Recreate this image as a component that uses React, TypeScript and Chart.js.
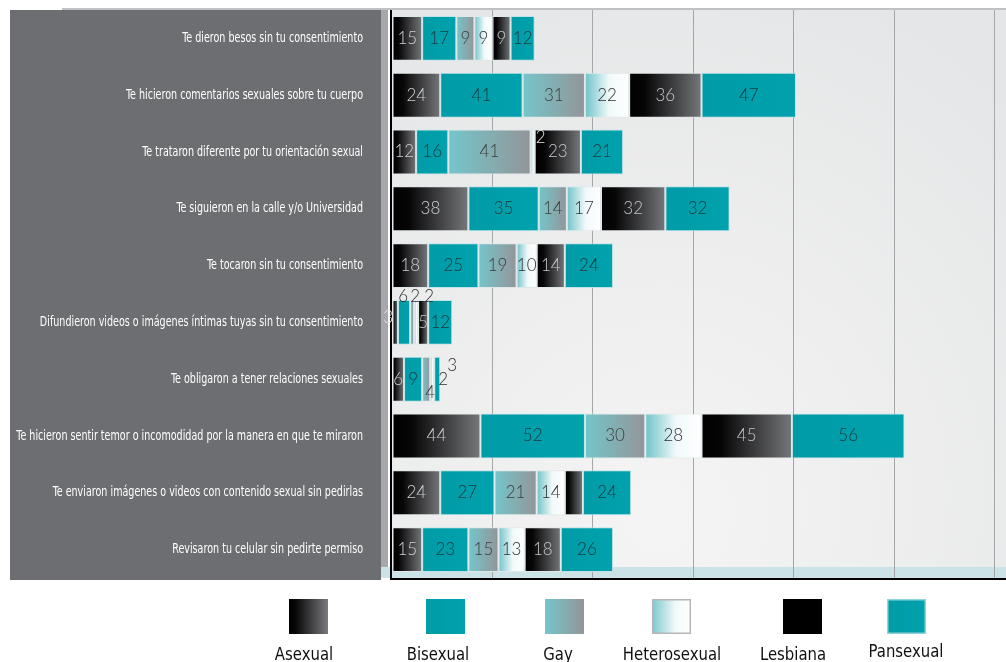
import React, { useEffect, useRef } from 'react';
import { Chart, registerables } from 'chart.js';

Chart.register(...registerables);

// ---------- data ----------
const categories = [
  'Te dieron besos sin tu consentimiento',
  'Te hicieron comentarios sexuales sobre tu cuerpo',
  'Te trataron diferente por tu orientación sexual',
  'Te siguieron en la calle y/o Universidad',
  'Te tocaron sin tu consentimiento',
  'Difundieron videos o imágenes íntimas tuyas sin tu consentimiento',
  'Te obligaron a tener relaciones sexuales',
  'Te hicieron sentir temor o incomodidad por la manera en que te miraron',
  'Te enviaron imágenes o videos con contenido sexual sin pedirlas',
  'Revisaron tu celular sin pedirte permiso',
];
const asexual = [15, 24, 12, 38, 18, 3, 6, 44, 24, 15];
const bisexual = [17, 41, 16, 35, 25, 6, 9, 52, 27, 23];
const gay = [9, 31, 41, 14, 19, 2, 4, 30, 21, 15];
const heterosexual = [9, 22, 2, 17, 10, 2, 2, 28, 14, 13];
const lesbiana = [9, 36, 23, 32, 14, 5, 0, 45, 9, 18];
const pansexual = [12, 47, 21, 32, 24, 12, 3, 56, 24, 26];
const seriesNames = ['Asexual', 'Bisexual', 'Gay', 'Heterosexual', 'Lesbiana', 'Pansexual'];
const gridValues = [0, 50, 100, 150, 200, 250, 300];

const series = [asexual, bisexual, gay, heterosexual, lesbiana, pansexual];

// ---------- styles ----------
type Stop = [number, string];
const darkStops: Stop[] = [[0, '#000000'], [0.22, '#060607'], [1, '#76777a']];
const tealStops: Stop[] = [[0, '#009ba7'], [1, '#00a2ad']];
const seriesStyles: { stops: Stop[]; text: string; legendStops: Stop[]; legendBorder?: string }[] = [
  { stops: darkStops, text: '#cfd0d2', legendStops: [[0, '#000000'], [0.15, '#050505'], [1, '#7a7b7e']] },
  { stops: tealStops, text: '#17383c', legendStops: tealStops },
  { stops: [[0, '#74c6cb'], [1, '#939598']], text: '#3a3b3d', legendStops: [[0, '#74c6cb'], [1, '#939598']] },
  { stops: [[0, '#6fc3c9'], [0.55, '#f2f9fa'], [1, '#ffffff']], text: '#2d2e30', legendStops: [[0, '#7cc8cd'], [0.6, '#f2f9fa'], [1, '#ffffff']], legendBorder: '#b4b6b8' },
  { stops: darkStops, text: '#c6c7c9', legendStops: [[0, '#000000'], [1, '#000000']] },
  { stops: tealStops, text: '#17383c', legendStops: tealStops, legendBorder: '#8fd4d9' },
];

// manual label nudges for tiny segments (key: row-series)
const labelTweaks: Record<string, { dx?: number; dy?: number; color?: string; hide?: boolean }> = {
  '2-3': { dx: 8, dy: -14, color: '#e6e7e8' },
  '5-0': { dx: -7, dy: -5, color: '#e0e1e2' },
  '5-1': { dx: -1, dy: -26, color: '#2d2e30' },
  '5-2': { dx: 3, dy: -26, color: '#2d2e30' },
  '5-3': { dx: 13, dy: -26, color: '#2d2e30' },
  '6-2': { dx: 4, dy: 13, color: '#3a3b3d' },
  '6-3': { dx: 11, dy: 0, color: '#2d2e30' },
  '6-5': { dx: 15, dy: -14, color: '#2d2e30' },
  '8-4': { hide: true },
};

const legendBoxX = [289, 426, 545, 652, 783, 887];
const legendTextX = [304, 438, 558, 672, 793, 906];

const W = 1006;
const H = 662;
const CONDENSED = '"Liberation Sans Narrow", "DejaVu Sans Condensed", sans-serif';

function makeGradient(ctx: CanvasRenderingContext2D, x0: number, x1: number, stops: Stop[]) {
  const g = ctx.createLinearGradient(x0, 0, x1, 0);
  stops.forEach(([o, c]) => g.addColorStop(o, c));
  return g;
}

// draw text horizontally squeezed so that it matches a narrow face
function squeezedText(ctx: CanvasRenderingContext2D, text: string, x: number, y: number, scale: number) {
  ctx.save();
  ctx.translate(x, y);
  ctx.scale(scale, 1);
  ctx.fillText(text, 0, 0);
  ctx.restore();
}

const decorPlugin = {
  id: 'decor',
  beforeDraw(chart: any) {
    const { ctx, chartArea } = chart;
    const { left, right, top, bottom } = chartArea;
    ctx.save();
    ctx.fillStyle = '#ffffff';
    ctx.fillRect(0, 0, W, H);
    ctx.fillStyle = '#bfc1c3';
    ctx.fillRect(62, 8, W - 62, 2);
    ctx.fillStyle = '#6d6e71';
    ctx.fillRect(10, 10, 371, 570);
    ctx.fillStyle = '#a6a8ab';
    ctx.fillRect(381, 10, 7, 557);
    const rg = ctx.createRadialGradient(660, 520, 20, 660, 470, 520);
    rg.addColorStop(0, '#f4f4f4');
    rg.addColorStop(1, '#e5e6e7');
    ctx.fillStyle = rg;
    ctx.fillRect(left, top, right - left, bottom - top);
    ctx.fillStyle = '#cbe3e7';
    ctx.fillRect(381, bottom - 11, right - 381, 11);
    ctx.restore();
  },
  beforeDatasetsDraw(chart: any) {
    const { ctx, chartArea } = chart;
    ctx.save();
    ctx.fillStyle = '#000000';
    ctx.fillRect(chartArea.left - 2, chartArea.top, 2, chartArea.bottom - chartArea.top + 2);
    ctx.fillRect(chartArea.left - 2, chartArea.bottom, chartArea.right - chartArea.left + 2, 2);
    ctx.restore();
  },
  afterDatasetsDraw(chart: any) {
    const { ctx } = chart;
    ctx.save();
    ctx.font = '300 17px Lato, "Open Sans", sans-serif';
    ctx.textAlign = 'center';
    ctx.textBaseline = 'middle';
    series.forEach((vals, di) => {
      const meta = chart.getDatasetMeta(di);
      meta.data.forEach((el: any, i: number) => {
        const v = vals[i];
        if (!v) return;
        const tw = labelTweaks[`${i}-${di}`] || {};
        if (tw.hide) return;
        const cx = (el.x + el.base) / 2 + (tw.dx || 0);
        const cy = el.y + (tw.dy || 0);
        ctx.fillStyle = tw.color || seriesStyles[di].text;
        ctx.fillText(String(v), cx, cy);
      });
    });
    ctx.restore();
  },
  afterDraw(chart: any) {
    const { ctx } = chart;
    const yScale = chart.scales.y;
    ctx.save();
    ctx.fillStyle = '#ffffff';
    ctx.textAlign = 'right';
    ctx.textBaseline = 'middle';
    ctx.font = '14px ' + CONDENSED;
    (chart.data.labels as string[]).forEach((lab, i) => {
      const y = yScale.getPixelForValue(i);
      squeezedText(ctx, lab, 363, y, 0.76);
    });
    chart.data.datasets.forEach((ds: any, di: number) => {
      const st = seriesStyles[di];
      const bx = legendBoxX[di];
      const by = 599;
      const bw = 39;
      const bh = 35;
      ctx.fillStyle = makeGradient(ctx, bx, bx + bw, st.legendStops);
      ctx.fillRect(bx, by, bw, bh);
      if (st.legendBorder) {
        ctx.strokeStyle = st.legendBorder;
        ctx.lineWidth = 1.5;
        ctx.strokeRect(bx + 0.75, by + 0.75, bw - 1.5, bh - 1.5);
      }
      ctx.fillStyle = '#111111';
      ctx.textAlign = 'center';
      ctx.textBaseline = 'alphabetic';
      ctx.font = '18px ' + CONDENSED;
      squeezedText(ctx, ds.label, legendTextX[di], di === 5 ? 657 : 660, 0.92);
    });
    ctx.restore();
  },
};

export default function App() {
  const canvasRef = useRef<HTMLCanvasElement | null>(null);

  useEffect(() => {
    const canvas = canvasRef.current;
    if (!canvas) return;

    const datasets = series.map((vals, di) => ({
      label: seriesNames[di],
      data: vals,
      backgroundColor: (c: any) => {
        const st = seriesStyles[di];
        const chart = c.chart;
        const xs = chart.scales && chart.scales.x;
        if (c.type !== 'data' || !xs) return st.stops[0][1];
        const i = c.dataIndex;
        let start = 0;
        for (let k = 0; k < di; k++) start += series[k][i];
        const x0 = xs.getPixelForValue(start);
        const x1 = xs.getPixelForValue(start + vals[i]);
        if (!(x1 > x0)) return st.stops[0][1];
        return makeGradient(chart.ctx, x0, x1, st.stops);
      },
      borderColor: di === 5 || di === 1 ? '#bfe3e6' : '#dfe7e8',
      borderWidth: 1,
      borderSkipped: false,
      barPercentage: 0.79,
      categoryPercentage: 1,
    }));

    const chart = new Chart(canvas, {
      type: 'bar',
      data: { labels: categories, datasets },
      options: {
        indexAxis: 'y',
        responsive: false,
        animation: false,
        layout: { padding: { top: 10, bottom: H - 578, left: 0, right: 0 } },
        plugins: { legend: { display: false }, tooltip: { enabled: false } },
        scales: {
          x: {
            stacked: true,
            min: 0,
            max: 305.5,
            afterBuildTicks: (scale: any) => {
              scale.ticks = gridValues.map((v) => ({ value: v }));
            },
            ticks: { display: false },
            border: { display: false },
            grid: {
              color: (c: any) => (c.tick && c.tick.value === 0 ? 'rgba(0,0,0,0)' : '#a4a6a9'),
              lineWidth: 1,
              drawTicks: false,
            },
          },
          y: {
            stacked: true,
            afterFit: (scale: any) => {
              scale.width = 392;
            },
            ticks: { display: false },
            border: { display: false },
            grid: { display: false, drawTicks: false },
          },
        },
      },
      plugins: [decorPlugin],
    } as any);

    return () => chart.destroy();
  }, []);

  return (
    <div style={{ position: 'absolute', left: 0, top: 0, width: W, height: H, background: '#fff' }}>
      <canvas ref={canvasRef} width={W} height={H} style={{ display: 'block', width: W, height: H }} />
    </div>
  );
}
